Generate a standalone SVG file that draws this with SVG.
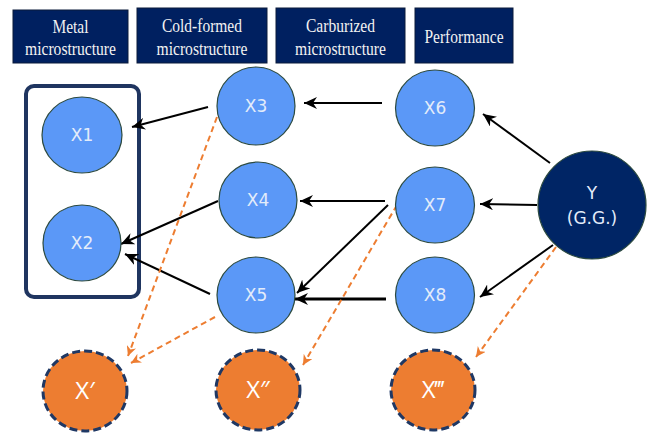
<svg xmlns="http://www.w3.org/2000/svg" width="662" height="433" viewBox="0 0 662 433">
<defs>
<marker id="ah" markerUnits="userSpaceOnUse" markerWidth="14" markerHeight="12" refX="13" refY="6" orient="auto">
<path d="M0,0 L13,6 L0,12 L4,6 Z" fill="#000"/>
</marker>
<marker id="oh" markerUnits="userSpaceOnUse" markerWidth="11" markerHeight="10" refX="10" refY="5" orient="auto">
<path d="M0,0 L10,5 L0,10 L3,5 Z" fill="#ED7D31"/>
</marker>
</defs>
<style>
.hdr{fill:#002060;stroke:#0a1a3a;stroke-width:1}
.ht{font-family:"Liberation Serif",serif;font-size:19px;fill:#f2f2f2;text-anchor:middle}
.bn{fill:#5B98F7;stroke:#2c4a40;stroke-width:1.2}
.yn{fill:#002565;stroke:#2c4a40;stroke-width:1.2}
.on{fill:#ED7D31;stroke:#1F3864;stroke-width:3;stroke-dasharray:8 4}
.nt{font-family:"DejaVu Sans",sans-serif;font-size:17px;fill:#e3ecfa;text-anchor:middle}
.ot{font-family:"Open Sans",sans-serif;font-size:24px;fill:#fff;text-anchor:middle}
.a{stroke:#000;stroke-width:2;fill:none;marker-end:url(#ah)}
.at{stroke:#000;stroke-width:3;fill:none;marker-end:url(#ah)}
.o{stroke:#ED7D31;stroke-width:2;stroke-dasharray:6 4;fill:none;marker-end:url(#oh)}
</style>
<g id="headers">
<g id="h1"><rect class="hdr" x="13" y="10" width="115" height="53"/><text class="ht" x="70.5" y="33" textLength="36" lengthAdjust="spacingAndGlyphs">Metal</text><text class="ht" x="70.5" y="55" textLength="91" lengthAdjust="spacingAndGlyphs">microstructure</text></g>
<g id="h2"><rect class="hdr" x="137" y="8" width="130" height="55"/><text class="ht" x="202" y="32" textLength="80" lengthAdjust="spacingAndGlyphs">Cold-formed</text><text class="ht" x="202" y="55" textLength="91" lengthAdjust="spacingAndGlyphs">microstructure</text></g>
<g id="h3"><rect class="hdr" x="276" y="8" width="129" height="55"/><text class="ht" x="340.5" y="32" textLength="69" lengthAdjust="spacingAndGlyphs">Carburized</text><text class="ht" x="340.5" y="55" textLength="91" lengthAdjust="spacingAndGlyphs">microstructure</text></g>
<g id="h4"><rect class="hdr" x="415" y="8" width="98" height="55"/><text class="ht" x="464" y="43" textLength="79" lengthAdjust="spacingAndGlyphs">Performance</text></g>
</g>
<g id="group-box"><rect x="26" y="86" width="113" height="211" rx="8" fill="none" stroke="#1F3560" stroke-width="4"/></g>
<g id="connectors">
<line class="a" x1="382" y1="103" x2="304" y2="103"/>
<line class="a" x1="385" y1="201" x2="300" y2="201"/>
<line class="at" x1="386" y1="299" x2="295" y2="299"/>
<line class="a" x1="388" y1="205" x2="297" y2="293"/>
<line class="a" x1="550" y1="163" x2="483" y2="114"/>
<line class="a" x1="537" y1="205" x2="480" y2="204"/>
<line class="a" x1="553" y1="245" x2="480" y2="297"/>
<line class="a" x1="208" y1="107" x2="132" y2="127"/>
<line class="a" x1="218" y1="201" x2="121" y2="244"/>
<line class="a" x1="210" y1="294" x2="125" y2="254"/>
<line class="o" x1="217" y1="117" x2="128" y2="356"/>
<line class="o" x1="215" y1="317" x2="131" y2="363"/>
<line class="o" x1="397" y1="205" x2="303" y2="365"/>
<line class="o" x1="556" y1="247" x2="476" y2="357"/>
</g>
<g id="X1"><ellipse class="bn" cx="82" cy="135" rx="40" ry="38"/><text class="nt" x="82" y="141">X1</text></g>
<g id="X2"><ellipse class="bn" cx="82" cy="243" rx="39" ry="38"/><text class="nt" x="82" y="249">X2</text></g>
<g id="X3"><ellipse class="bn" cx="256" cy="106" rx="39" ry="39"/><text class="nt" x="256" y="112">X3</text></g>
<g id="X4"><ellipse class="bn" cx="258" cy="200" rx="39" ry="38"/><text class="nt" x="258" y="206">X4</text></g>
<g id="X5"><ellipse class="bn" cx="256" cy="295" rx="39" ry="38"/><text class="nt" x="256" y="301">X5</text></g>
<g id="X6"><ellipse class="bn" cx="435" cy="108" rx="39.5" ry="38"/><text class="nt" x="435" y="114">X6</text></g>
<g id="X7"><ellipse class="bn" cx="435" cy="205" rx="39.5" ry="38"/><text class="nt" x="435" y="211">X7</text></g>
<g id="X8"><ellipse class="bn" cx="435" cy="295" rx="39.5" ry="38"/><text class="nt" x="435" y="301">X8</text></g>
<g id="Y"><circle class="yn" cx="592" cy="205" r="54"/><text class="nt" x="592" y="199">Y</text><text class="nt" x="592" y="224">(G.G.)</text></g>
<g id="Xp1"><ellipse class="on" cx="85" cy="391" rx="42" ry="40"/><text class="ot" x="85" y="399">X′</text></g>
<g id="Xp2"><ellipse class="on" cx="258" cy="390" rx="42" ry="40"/><text class="ot" x="258" y="398">X″</text></g>
<g id="Xp3"><ellipse class="on" cx="433" cy="390" rx="42" ry="40"/><text class="ot" x="433" y="398">X‴</text></g>
</svg>
